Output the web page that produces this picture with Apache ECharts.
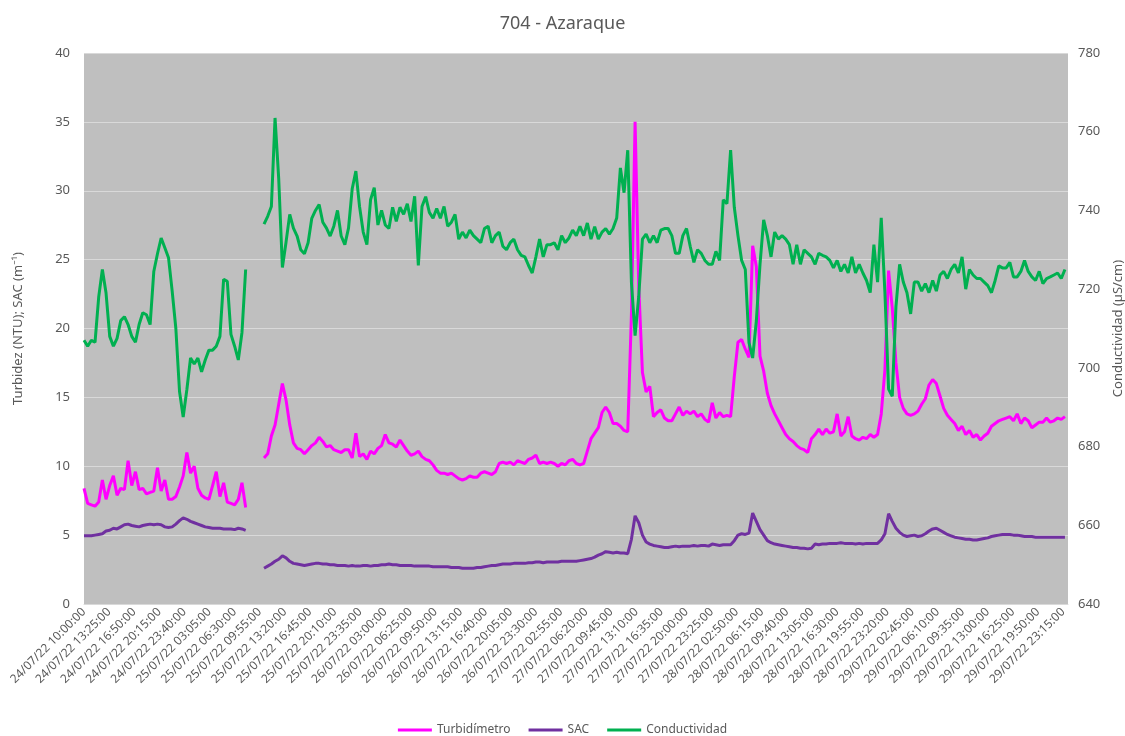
<!DOCTYPE html>
<html><head><meta charset="utf-8">
<script src="https://cdn.jsdelivr.net/npm/echarts@6/dist/echarts.min.js"></script>
<style>html,body{margin:0;padding:0;background:#fff}#c{width:1125px;height:736px}</style>
</head><body><div id="c"></div>
<script>
// x categories: one every 5 minutes from 24/07/22 10:00:00 (1608 steps); values sampled every 30 min (6 steps)
const startDay = 24, startMinute = 10 * 60, stepMinutes = 5, nCategories = 1608, sampleEvery = 6;
const labelEvery = 41;

// Turbidímetro (NTU), every 30 min from 24/07 10:00 (null = no data)
const turbidimetro = [
 8.4,7.3,7.2,7.1,7.4,9.0,7.6,8.6,9.3,7.9,8.4,8.3,10.4,8.6,9.6,8.3,8.4,8.0,8.1,8.2,9.9,8.2,9.0,7.6,7.6,7.8,8.5,9.3,11.0,9.5,10.0,8.4,7.9,7.7,7.6,8.6,9.6,7.8,8.8,7.4,7.3,7.2,7.6,8.8,7.0,
 null,null,null,null,
 10.6,10.9,12.2,13.0,14.5,16.0,14.8,13.0,11.7,11.3,11.2,10.9,11.2,11.5,11.7,12.1,11.8,11.4,11.5,11.2,11.1,11.0,11.2,11.2,10.6,12.4,10.7,10.9,10.5,11.1,10.9,11.3,11.5,12.3,11.7,11.6,11.4,11.9,11.5,11.1,10.8,10.9,11.1,
 10.7,10.5,10.4,10.1,9.7,9.5,9.5,9.4,9.5,9.3,9.1,9.0,9.1,9.3,9.2,9.2,9.5,9.6,9.5,9.4,9.6,10.2,10.3,10.2,10.3,10.1,10.4,10.3,10.2,10.5,10.6,10.8,10.2,10.3,10.2,10.3,10.2,10.0,10.2,10.1,10.4,10.5,10.2,10.1,10.2,
 11.1,12.0,12.4,12.8,13.9,14.3,13.9,13.1,13.1,12.9,12.6,12.5,21.0,35.0,23.0,16.8,15.4,15.8,13.6,13.9,14.1,13.5,13.3,13.3,13.8,14.3,13.7,14.0,13.8,14.0,13.6,13.8,13.4,13.2,14.6,13.5,13.9,13.6,13.7,13.6,16.5,19.0,19.2,18.5,17.9,
 26.0,24.5,18.0,16.9,15.3,14.4,13.8,13.3,12.8,12.3,12.0,11.8,11.5,11.3,11.2,11.0,12.0,12.3,12.7,12.3,12.7,12.4,12.5,13.8,12.2,12.5,13.6,12.2,12.0,11.9,12.1,12.0,12.3,12.1,12.3,13.8,17.0,24.2,21.5,17.5,15.0,14.2,13.8,13.7,13.8,
 14.0,14.5,14.9,15.9,16.3,16.0,15.1,14.2,13.7,13.4,13.1,12.6,12.9,12.3,12.6,12.1,12.3,11.9,12.2,12.4,12.9,13.1,13.3,13.4,13.5,13.6,13.3,13.8,13.1,13.5,13.3,12.8,13.0,13.2,13.2,13.5,13.2,13.3,13.5,13.4,13.6
];

// SAC (m-1)
const sac = [
 4.95,4.95,4.95,5.0,5.05,5.1,5.3,5.35,5.5,5.45,5.6,5.75,5.8,5.7,5.65,5.6,5.7,5.75,5.8,5.75,5.8,5.75,5.6,5.55,5.6,5.8,6.05,6.25,6.15,6.0,5.9,5.8,5.7,5.6,5.55,5.5,5.5,5.5,5.45,5.45,5.45,5.4,5.5,5.45,5.35,
 null,null,null,null,
 2.6,2.75,2.9,3.1,3.25,3.5,3.35,3.1,2.95,2.9,2.85,2.8,2.85,2.9,2.95,2.95,2.9,2.9,2.85,2.85,2.8,2.8,2.8,2.75,2.8,2.75,2.75,2.8,2.8,2.75,2.8,2.8,2.85,2.85,2.9,2.85,2.85,2.8,2.8,2.8,2.8,2.75,2.75,
 2.75,2.75,2.75,2.7,2.7,2.7,2.7,2.7,2.65,2.65,2.65,2.6,2.6,2.6,2.6,2.65,2.65,2.7,2.75,2.8,2.8,2.85,2.9,2.9,2.9,2.95,2.95,2.95,2.95,3.0,3.0,3.05,3.05,3.0,3.05,3.05,3.05,3.05,3.1,3.1,3.1,3.1,3.1,3.15,3.2,
 3.25,3.3,3.4,3.55,3.65,3.8,3.75,3.7,3.75,3.7,3.7,3.65,4.7,6.4,5.9,5.0,4.5,4.35,4.25,4.2,4.15,4.1,4.1,4.15,4.2,4.15,4.2,4.2,4.2,4.25,4.2,4.25,4.25,4.2,4.35,4.3,4.25,4.3,4.3,4.3,4.6,5.0,5.1,5.05,5.15,
 6.6,6.0,5.4,5.0,4.6,4.45,4.35,4.3,4.25,4.2,4.15,4.1,4.1,4.05,4.05,4.0,4.05,4.35,4.3,4.35,4.35,4.4,4.4,4.4,4.45,4.4,4.4,4.4,4.35,4.4,4.35,4.4,4.4,4.4,4.4,4.65,5.1,6.55,6.0,5.5,5.2,5.0,4.9,4.95,5.0,
 4.9,4.95,5.1,5.3,5.45,5.5,5.35,5.2,5.05,4.95,4.85,4.8,4.75,4.7,4.7,4.65,4.65,4.7,4.75,4.8,4.9,4.95,5.0,5.05,5.05,5.05,5.0,5.0,4.95,4.9,4.9,4.9,4.85,4.85,4.85,4.85,4.85,4.85,4.85,4.85,4.85
];

// Conductividad (µS/cm)
const conductividad = [
 707,705.5,707,706.5,718,725,719,708,705.5,707.5,712,713,711,708,706.5,711,714,713.5,711,724.5,729,733,730.5,728,719.5,710,694,687.5,694.5,702.5,701,702.5,699,702,704.5,704.5,705.5,708,722.5,722,708.5,705.5,702,709,725,
 null,null,null,null,
 736.5,738.5,741,763.5,748,725.5,732,739,735.5,733.5,730,729,731.8,738,740,741.5,737,735.5,733.5,736,740,733.5,731.3,735.5,745.5,750,741,734.5,731.3,742.7,745.8,736.3,740,736.3,735.4,740.8,737.2,740.8,739,741.7,737.2,743.6,726,
 741,743.5,739.5,738,740.5,738,741,736,737,739,732.7,734.5,733,735,733.6,732.7,731.8,735.4,736,731.8,733.6,734.5,730.9,730,731.8,732.7,730,728.6,728.2,726,724.1,728.2,732.7,728.2,731.3,731.3,731.8,730,733.6,731.8,733,735,733.6,736,733.6,
 736.8,732.7,735.9,732.7,734.5,735.4,734,735.4,738.1,750.8,744.5,755.3,721.8,708.2,718.2,732.7,734,731.8,733.6,731.8,735,735.4,735.4,733.6,729.1,729.1,733.6,735.4,730.9,726.8,730,729.1,727.3,726.3,726.3,729.6,727.3,742.7,741.7,755.3,740.8,733.6,727.3,725,706.4,
 702.5,711.9,726.3,737.6,733.6,728.2,734.5,732.7,733.6,732.7,731.3,726.3,731.3,726.3,730,729.1,728.2,726.3,729.1,728.6,728.2,727.3,725.4,727.3,724.5,726.3,724.1,728.2,724.1,726.3,724.1,722.2,719.1,731.3,721.8,738.1,719.1,694.6,692.8,715.5,726.3,721.8,719.1,713.7,721.8,
 721.8,719.5,721.4,719.1,722.2,719.5,723.6,724.5,722.7,725,726.3,724.1,728.2,720,725,723.6,722.7,722.7,721.8,720.9,719.1,722.2,725.9,725.4,725.4,726.8,723.1,723.1,724.5,727.3,724.5,723.1,722.2,724.5,721.4,722.7,723.1,723.6,724.1,722.7,725
];

function pad(n) { return String(n).padStart(2, '0'); }
const categories = [];
for (let i = 0; i < nCategories; i++) {
  const t = startMinute + i * stepMinutes;
  const d = startDay + Math.floor(t / 1440);
  const m = t % 1440;
  categories.push(pad(d) + '/07/22 ' + pad(Math.floor(m / 60)) + ':' + pad(m % 60) + ':00');
}
function toPairs(arr) { return arr.map((v, k) => [categories[k * sampleEvery], v]); }

const FONT = 'Noto Sans';
const TXT = '#595959';
const chart = echarts.init(document.getElementById('c'), null, { renderer: 'canvas' });
chart.setOption({
  animation: false,
  backgroundColor: '#ffffff',
  textStyle: { fontFamily: FONT },
  title: { text: '704 - Azaraque', left: 'center', top: 10,
    textStyle: { fontSize: 18, fontWeight: 'normal', color: TXT, fontFamily: FONT } },
  grid: { left: 84, right: 57, top: 53, bottom: 132, show: true, backgroundColor: '#BFBFBF', borderWidth: 0,
    containLabel: false, outerBoundsMode: 'none' },
  legend: { top: 719, left: 'center', icon: 'rect', itemWidth: 34, itemHeight: 3, itemGap: 18,
    textStyle: { color: TXT, fontSize: 12, fontFamily: FONT },
    data: ['Turbidímetro', 'SAC', 'Conductividad'] },
  xAxis: {
    type: 'category', data: categories, boundaryGap: false,
    axisLine: { lineStyle: { color: '#D9D9D9' } },
    axisTick: { show: false },
    axisLabel: { interval: labelEvery - 1, rotate: 45, color: TXT, fontSize: 12, fontFamily: FONT, margin: 6 },
    splitLine: { show: false }
  },
  yAxis: [
    { type: 'value', min: 0, max: 40, interval: 5, position: 'left',
      name: 'Turbidez (NTU); SAC (m⁻¹)', nameLocation: 'middle', nameGap: 59,
      nameTextStyle: { color: TXT, fontSize: 13, fontFamily: FONT },
      axisLine: { show: false }, axisTick: { show: false },
      axisLabel: { color: TXT, fontSize: 13, margin: 14, fontFamily: FONT },
      splitLine: { lineStyle: { color: '#D9D9D9', width: 1 } } },
    { type: 'value', min: 640, max: 780, interval: 20, position: 'right',
      name: 'Conductividad (µS/cm)', nameLocation: 'middle', nameGap: 44,
      nameTextStyle: { color: TXT, fontSize: 13, fontFamily: FONT },
      axisLine: { show: false }, axisTick: { show: false },
      axisLabel: { color: TXT, fontSize: 13, margin: 10, fontFamily: FONT },
      splitLine: { show: false } }
  ],
  series: [
    { name: 'Turbidímetro', type: 'line', yAxisIndex: 0, data: toPairs(turbidimetro),
      showSymbol: false, connectNulls: false, color: '#FF00FF', lineStyle: { width: 3, color: '#FF00FF' } },
    { name: 'SAC', type: 'line', yAxisIndex: 0, data: toPairs(sac),
      showSymbol: false, connectNulls: false, color: '#7030A0', lineStyle: { width: 3, color: '#7030A0' } },
    { name: 'Conductividad', type: 'line', yAxisIndex: 1, data: toPairs(conductividad),
      showSymbol: false, connectNulls: false, color: '#00B050', lineStyle: { width: 3, color: '#00B050' } }
  ]
});
</script></body></html>
